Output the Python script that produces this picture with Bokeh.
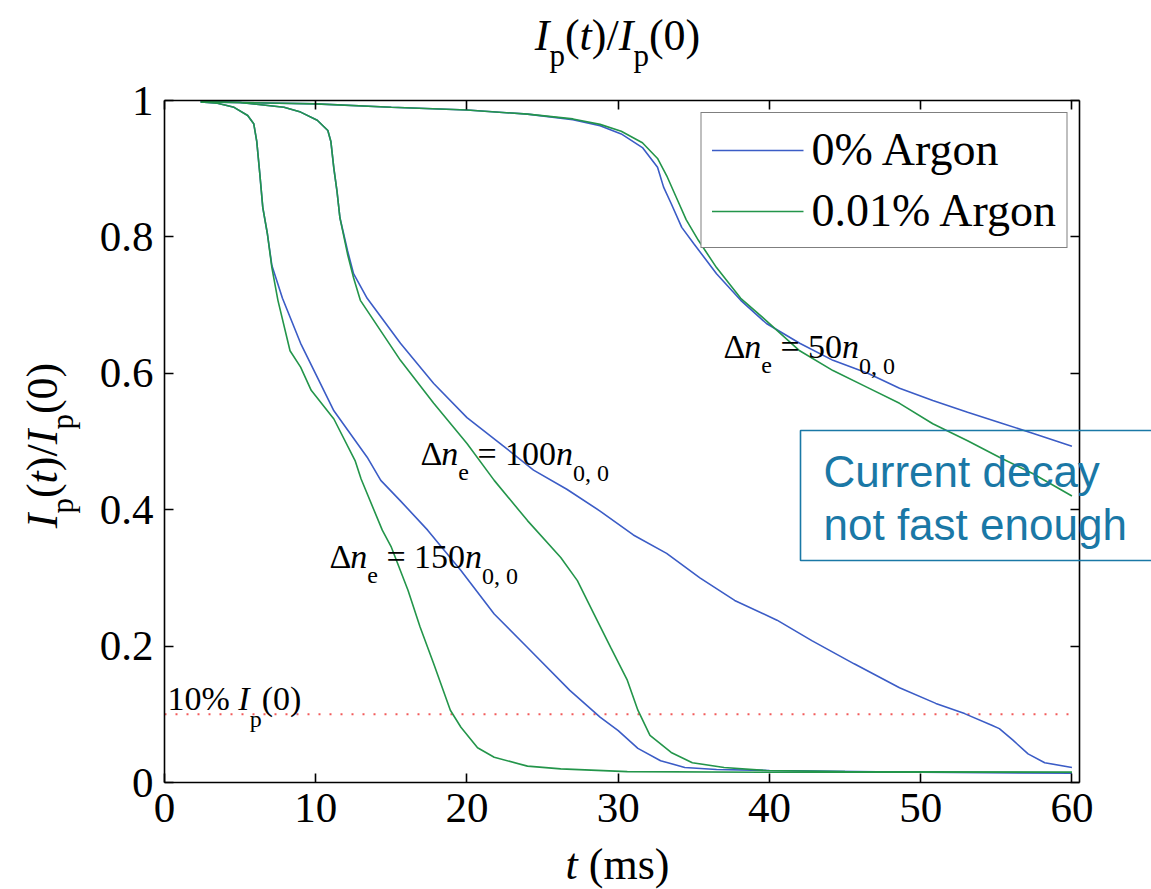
from bokeh.plotting import figure
from bokeh.models import Range1d, FixedTicker, LinearAxis, Legend, LegendItem
from bokeh.core.properties import value
from bokeh.embed import file_html
from bokeh.resources import INLINE

# ---- data: plasma current fraction Ip(t)/Ip(0) vs time (ms) ----
x_ticks = [0, 10, 20, 30, 40, 50, 60]
y_ticks = [0, 0.2, 0.4, 0.6, 0.8, 1]
y_tick_labels = ["0", "0.2", "0.4", "0.6", "0.8", "1"]

# dn_e = 50 n_{0,0}
t_50_ar0 = [2.4, 5.0, 10.0, 15.0, 20.0, 24.0, 27.0, 28.8, 30.2, 31.6, 32.6, 33.0, 33.5, 34.2,
            35.0, 36.5, 38.1, 39.8, 42.0, 44.2, 46.5, 48.6, 50.8, 53.1, 55.2, 57.4, 60.0]
y_50_ar0 = [0.998, 0.997, 0.995, 0.990, 0.986, 0.980, 0.972, 0.963, 0.951, 0.931, 0.902, 0.873,
            0.849, 0.814, 0.790, 0.746, 0.707, 0.673, 0.644, 0.619, 0.600, 0.578, 0.560, 0.543,
            0.528, 0.512, 0.493]
t_50_ar1 = [2.4, 5.0, 10.0, 15.0, 20.0, 24.0, 27.0, 28.8, 30.2, 31.6, 32.6, 33.2, 33.8, 34.5,
            35.3, 36.5, 38.1, 39.8, 42.0, 44.2, 46.5, 48.6, 50.8, 53.1, 55.2, 57.4, 60.0]
y_50_ar1 = [0.998, 0.997, 0.995, 0.990, 0.986, 0.980, 0.973, 0.965, 0.955, 0.938, 0.915, 0.890,
            0.860, 0.825, 0.795, 0.755, 0.710, 0.677, 0.633, 0.604, 0.579, 0.556, 0.526, 0.501,
            0.477, 0.453, 0.420]

# dn_e = 100 n_{0,0}
t_100_ar0 = [2.4, 5.0, 7.9, 9.0, 10.1, 10.8, 11.0, 11.2, 11.4, 11.6, 12.1, 12.5, 13.4, 15.6, 17.8,
             20.0, 22.2, 24.4, 26.6, 28.8, 31.0, 33.2, 35.4, 37.7, 40.5, 42.8, 45.6, 48.6, 51.0,
             52.9, 54.7, 55.2, 56.1, 57.1, 58.2, 60.0]
y_100_ar0 = [0.998, 0.997, 0.990, 0.983, 0.971, 0.956, 0.940, 0.900, 0.868, 0.828, 0.780, 0.746,
             0.710, 0.644, 0.585, 0.535, 0.497, 0.458, 0.430, 0.398, 0.363, 0.336, 0.300, 0.267,
             0.238, 0.208, 0.174, 0.139, 0.116, 0.101, 0.084, 0.079, 0.062, 0.042, 0.029, 0.022]
t_100_ar1 = [2.4, 5.0, 7.9, 9.0, 10.1, 10.8, 11.0, 11.2, 11.4, 11.6, 12.1, 12.5, 12.95, 15.6, 17.8,
             20.0, 21.8, 24.0, 26.2, 27.3, 28.4, 29.5, 30.6, 31.3, 32.1, 33.5, 34.9, 37.0, 39.8,
             45.0, 60.0]
y_100_ar1 = [0.998, 0.997, 0.990, 0.983, 0.971, 0.956, 0.940, 0.900, 0.868, 0.828, 0.775, 0.740,
             0.707, 0.619, 0.556, 0.497, 0.443, 0.384, 0.330, 0.296, 0.247, 0.198, 0.150, 0.106,
             0.069, 0.044, 0.029, 0.022, 0.0176, 0.016, 0.015]

# dn_e = 150 n_{0,0}
t_150_ar0 = [2.4, 3.5, 4.6, 5.5, 5.9, 6.1, 6.3, 6.5, 6.8, 7.1, 7.8, 9.0, 11.2, 13.4, 14.3, 15.6,
             17.4, 19.6, 21.8, 24.0, 26.8, 28.8, 30.0, 31.3, 32.8, 34.4, 36.5, 40.0, 50.0, 60.0]
y_150_ar0 = [0.998, 0.996, 0.990, 0.978, 0.966, 0.940, 0.893, 0.843, 0.805, 0.758, 0.710, 0.644,
             0.545, 0.477, 0.443, 0.413, 0.370, 0.311, 0.247, 0.198, 0.135, 0.096, 0.076, 0.050,
             0.032, 0.022, 0.019, 0.0176, 0.015, 0.0135]
t_150_ar1 = [2.4, 3.5, 4.6, 5.5, 5.9, 6.1, 6.3, 6.5, 6.8, 7.1, 7.5, 8.3, 9.0, 9.7, 11.2, 12.6, 13.0,
             14.4, 15.0, 16.1, 16.9, 17.8, 18.9, 19.6, 20.7, 21.8, 24.0, 26.2, 30.6, 40.0, 60.0]
y_150_ar1 = [0.998, 0.996, 0.990, 0.978, 0.966, 0.940, 0.893, 0.843, 0.805, 0.755, 0.707, 0.633,
             0.609, 0.575, 0.533, 0.472, 0.445, 0.370, 0.345, 0.282, 0.228, 0.174, 0.106, 0.081,
             0.051, 0.037, 0.024, 0.020, 0.016, 0.015, 0.015]

# 10 % of initial current
thr_t = [0, 60]
thr_y = [0.1, 0.1]

series_names = ["0% Argon", "0.01% Argon"]

# ---- styling ----
BLUE = "#3b5cc6"
GREEN = "#23954a"
SERIF = "Liberation Serif"
SANS = "Liberation Sans"
NOTE = "#1a78a6"

W, H = 1151, 889
L, R, T, B = 164, 72, 100, 107          # frame borders in px
X0, X1 = 0.0, 60.5
Y0, Y1 = 0.0, 1.0
FW, FH = W - L - R, H - T - B
RAISE = 0.34                            # baseline correction, in em


def dx(px):
    return X0 + (px - L) * (X1 - X0) / FW


def dy(py):
    return Y0 + (H - B - py) * (Y1 - Y0) / FH


p = figure(width=W, height=H, x_range=Range1d(X0, X1), y_range=Range1d(Y0, Y1),
           output_backend="svg", toolbar_location=None,
           min_border_left=L, min_border_right=R, min_border_top=T, min_border_bottom=B)
p.background_fill_color = "white"
p.border_fill_color = "white"
p.outline_line_color = None
p.xgrid.visible = False
p.ygrid.visible = False

bottom_ax = p.below[0]
left_ax = p.left[0]
top_ax = LinearAxis()
right_ax = LinearAxis()
p.add_layout(top_ax, "above")
p.add_layout(right_ax, "right")

for ax in [bottom_ax, top_ax]:
    ax.ticker = FixedTicker(ticks=x_ticks)
for ax in [left_ax, right_ax]:
    ax.ticker = FixedTicker(ticks=y_ticks)
left_ax.major_label_overrides = {v: s for v, s in zip(y_ticks, y_tick_labels)}

for ax in [bottom_ax, left_ax, top_ax, right_ax]:
    ax.axis_line_color = "black"
    ax.axis_line_width = 1.6
    ax.major_tick_line_color = "black"
    ax.major_tick_line_width = 1.6
    ax.major_tick_in = 9
    ax.major_tick_out = 0
    ax.minor_tick_line_color = None
    ax.major_label_text_font = SERIF
    ax.major_label_text_font_size = "43px"
    ax.major_label_text_color = "black"
    ax.major_label_standoff = 11
for ax in [top_ax, right_ax]:
    ax.major_label_text_color = None
    ax.major_label_text_font_size = "12px"
    ax.major_label_standoff = 0

# threshold line
p.line(thr_t, thr_y, line_color="#f25b5b", line_width=2, line_dash="2 9")

# curves
blues = []
for tt, yy in [(t_50_ar0, y_50_ar0), (t_100_ar0, y_100_ar0), (t_150_ar0, y_150_ar0)]:
    blues.append(p.line(tt, yy, line_color=BLUE, line_width=1.6))
greens = []
for tt, yy in [(t_50_ar1, y_50_ar1), (t_100_ar1, y_100_ar1), (t_150_ar1, y_150_ar1)]:
    greens.append(p.line(tt, yy, line_color=GREEN, line_width=1.6))

legend = Legend(items=[LegendItem(label=series_names[0], renderers=[blues[0]]),
                       LegendItem(label=series_names[1], renderers=[greens[0]])],
                location="top_right", margin=12, padding=10, spacing=8,
                glyph_width=92, glyph_height=50, label_height=50, label_standoff=8,
                label_text_font=SERIF, label_text_font_size="46px",
                label_text_color="black",
                border_line_color="black", border_line_width=1.5,
                background_fill_color="white", background_fill_alpha=1.0)
p.add_layout(legend, "center")

# ---- composed math-style text (drawn on the overlay level so it may leave the frame) ----
EM = {"0": .5, "1": .5, "2": .5, "3": .5, "4": .5, "5": .5, "6": .5, "7": .5, "8": .5, "9": .5,
      ".": .25, ",": .25, " ": .25, "%": .833, "(": .333, ")": .333, "/": .278, "=": .564,
      "I": .333, "t": .278, "n": .5, "p": .5, "e": .444, "m": .778, "s": .389, "\u0394": .61}


def width(text, size):
    return sum(EM.get(c, .5) for c in text) * size


def put_text(px, py, text, size, font=SERIF, style="normal", angle=0.0, color="black"):
    p.text(x=[dx(px)], y=[dy(py)], text=[text], angle=angle,
           text_font=value(font), text_font_size=f"{size}px", text_font_style=style,
           text_align="left", text_baseline="alphabetic", text_color=color, level="overlay")


def compose(pieces, x0, y0, angle=0.0):
    pos = 0.0
    for piece in pieces:
        text, size, italic, shift = piece[:4]
        pos += piece[4] if len(piece) > 4 else 0.0
        down = shift - RAISE * size
        if angle == 0.0:
            px, py = x0 + pos, y0 + down
        else:
            px, py = x0 + down, y0 - pos
        put_text(px, py, text, size, style="italic" if italic else "normal", angle=angle)
        pos += width(text, size)


def total(pieces):
    return sum(width(pc[0], pc[1]) + (pc[4] if len(pc) > 4 else 0) for pc in pieces)


ratio = [("I", 44, True, 0), ("p", 31, False, 16), ("(", 44, False, 0), ("t", 44, True, 0),
         (")/", 44, False, 0), ("I", 44, True, 0), ("p", 31, False, 16), ("(0)", 44, False, 0)]
compose(ratio, 617 - total(ratio) / 2, 50)
compose(ratio, 57, 445 + total(ratio) / 2, angle=1.5707963267948966)

xlab = [("t", 44, True, 0), ("(ms)", 44, False, 0, 11)]
compose(xlab, 617 - total(xlab) / 2, 879)


def dn_label(num):
    return [("\u0394", 34, False, 0), ("n", 34, True, 0), ("e", 24, False, 15),
            ("=", 34, False, 0, 8.5), (num, 34, False, 0, 8.5), ("n", 34, True, 0),
            ("0, 0", 24, False, 16)]


compose(dn_label("50"), 723, 358)
compose(dn_label("100"), 420, 465)
compose(dn_label("150"), 329, 568)

compose([("10%", 34, False, 0), ("I", 34, True, 0, 8.5), ("p", 24, False, 17),
         ("(0)", 34, False, 0)], 167, 710)

# boxed note
p.quad(left=[dx(800)], right=[dx(1165)], top=[dy(430)], bottom=[dy(560)],
       fill_color=None, line_color=NOTE, line_width=1.6, level="overlay")
put_text(823, 486 - RAISE * 44, "Current decay", 44, font=SANS, color=NOTE)
put_text(823, 539 - RAISE * 44, "not fast enough", 44, font=SANS, color=NOTE)

open("out.html", "w").write(file_html(p, INLINE))
